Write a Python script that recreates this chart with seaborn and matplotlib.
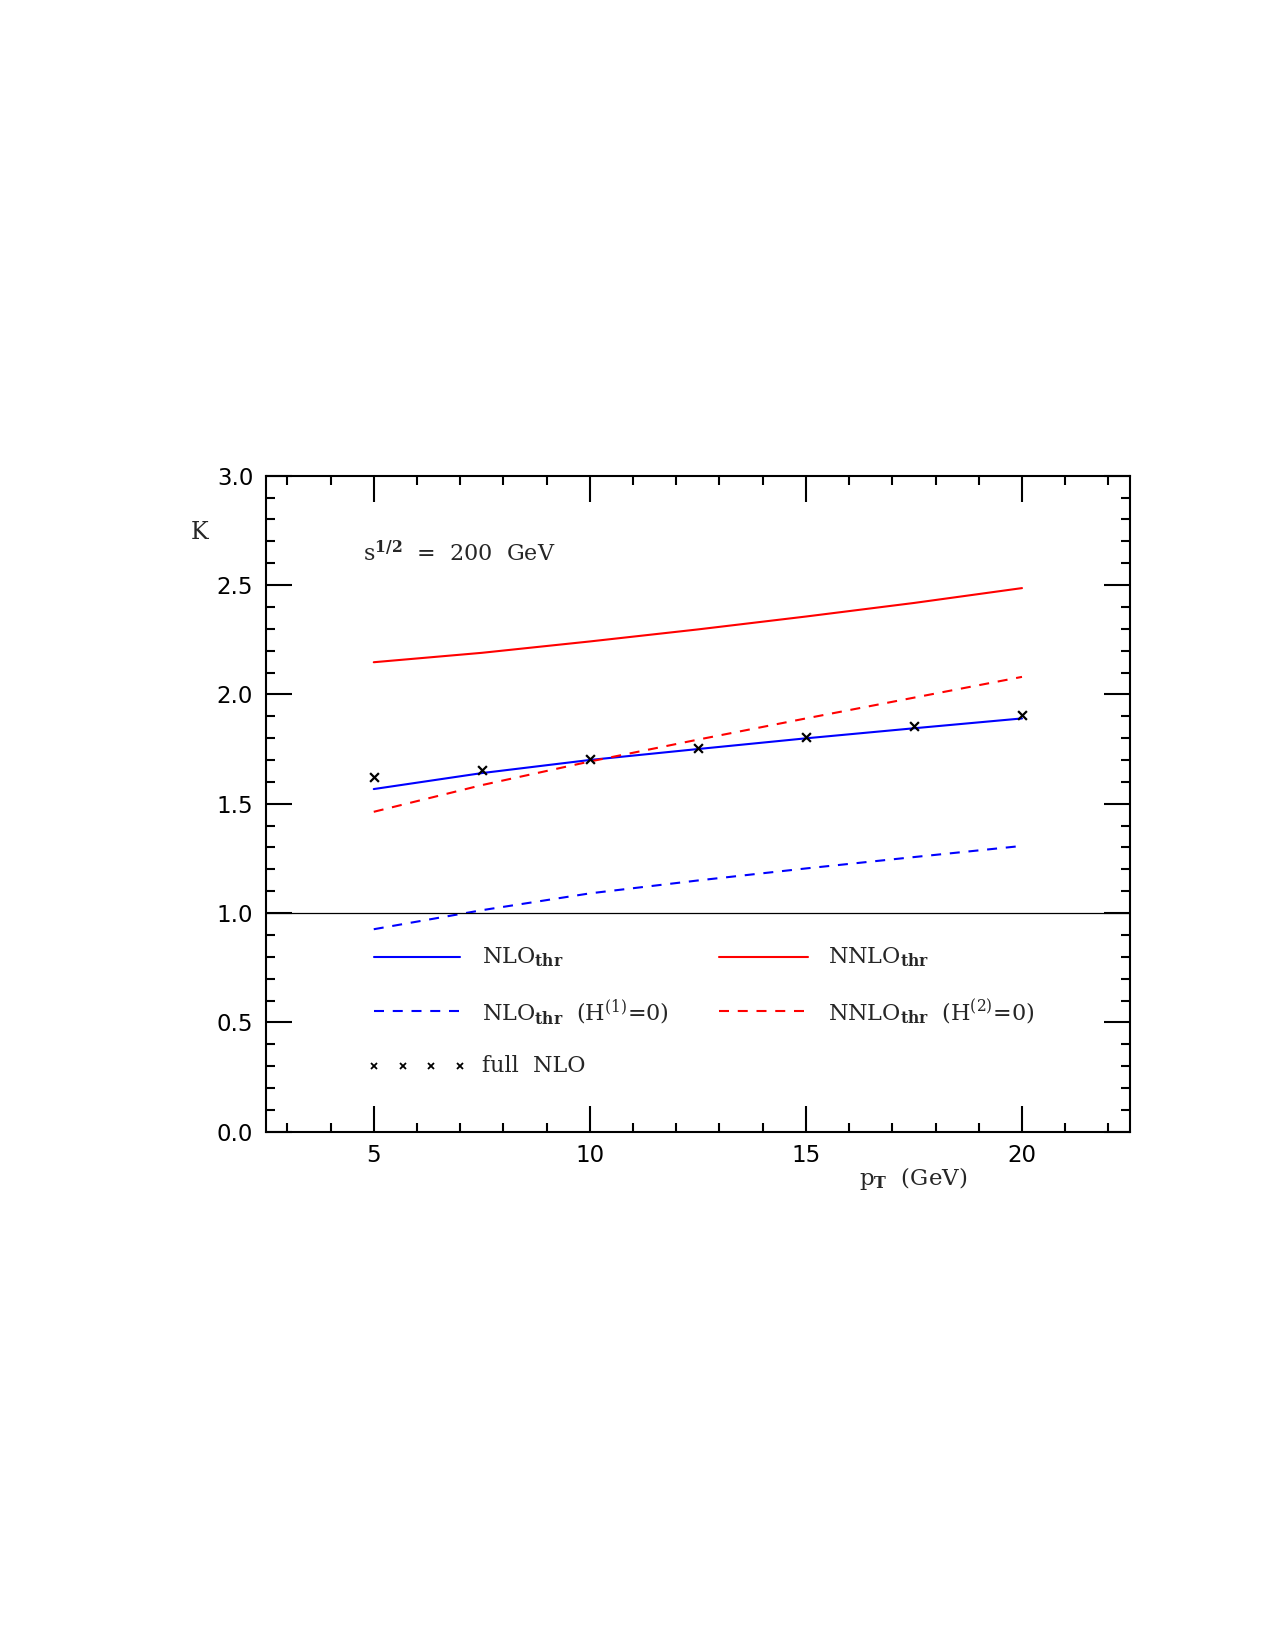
import numpy as np
import pandas as pd
import matplotlib
matplotlib.use("Agg")
import matplotlib.pyplot as plt
import seaborn as sns
from matplotlib.ticker import MultipleLocator

# ---- data ----
pt = [5.0, 7.5, 10.0, 12.5, 15.0, 17.5, 20.0]
nlo_thr = [1.567, 1.640, 1.700, 1.750, 1.799, 1.845, 1.890]
nnlo_thr = [2.147, 2.190, 2.242, 2.297, 2.356, 2.418, 2.486]
nlo_thr_h0 = [0.926, 1.013, 1.090, 1.149, 1.204, 1.256, 1.307]
nnlo_thr_h0 = [1.463, 1.585, 1.693, 1.793, 1.890, 1.985, 2.080]
full_nlo = [1.623, 1.654, 1.703, 1.756, 1.806, 1.857, 1.905]

labels = [r"NLO$_{\mathbf{thr}}$", r"NNLO$_{\mathbf{thr}}$",
          r"NLO$_{\mathbf{thr}}$  (H$^{(1)}$=0)", r"NNLO$_{\mathbf{thr}}$  (H$^{(2)}$=0)",
          "full  NLO"]

sns.set_style("ticks")
plt.rcParams["font.family"] = ["DejaVu Serif", "DejaVu Sans"]
plt.rcParams["mathtext.fontset"] = "dejavuserif"

fig = plt.figure(figsize=(12.75, 16.5), dpi=100)
ax = fig.add_axes([0.2084, 0.3141, 0.6779, 0.3976])

df = pd.DataFrame({"pt": pt, "nlo": nlo_thr, "nnlo": nnlo_thr,
                   "nlo0": nlo_thr_h0, "nnlo0": nnlo_thr_h0, "full": full_nlo})

dash = (0, (4.8, 4.2))
lw = 1.5
sns.lineplot(data=df, x="pt", y="nnlo", ax=ax, color="red", lw=lw, legend=False)
sns.lineplot(data=df, x="pt", y="nlo", ax=ax, color="blue", lw=lw, legend=False)
sns.lineplot(data=df, x="pt", y="nnlo0", ax=ax, color="red", lw=lw, legend=False)
ax.lines[-1].set_linestyle(dash)
sns.lineplot(data=df, x="pt", y="nlo0", ax=ax, color="blue", lw=lw, legend=False)
ax.lines[-1].set_linestyle(dash)
sns.scatterplot(data=df, x="pt", y="full", ax=ax, marker="x", color="black",
                s=40, linewidth=1.6, legend=False, zorder=5)

ax.axhline(1.0, color="black", lw=0.9)

# ---- legend drawn inside axes ----
row_y = [0.80, 0.55, 0.30]
ax.plot([5.0, 7.0], [row_y[0]] * 2, color="blue", lw=lw)
ax.plot([13.0, 15.05], [row_y[0]] * 2, color="red", lw=lw)
ax.plot([5.0, 7.0], [row_y[1]] * 2, color="blue", lw=lw, linestyle=dash)
ax.plot([13.0, 15.05], [row_y[1]] * 2, color="red", lw=lw, linestyle=dash)
ax.plot([5.0, 5.67, 6.33, 7.0], [row_y[2]] * 4, "x", color="black", ms=5, mew=1.3)
fs = 16
ax.text(7.5, row_y[0], labels[0], fontsize=fs, va="center", ha="left")
ax.text(15.5, row_y[0], labels[1], fontsize=fs, va="center", ha="left")
ax.text(7.5, row_y[1], labels[2], fontsize=fs, va="center", ha="left")
ax.text(15.5, row_y[1], labels[3], fontsize=fs, va="center", ha="left")
ax.text(7.5, row_y[2], labels[4], fontsize=fs, va="center", ha="left")

ax.text(4.75, 2.645, r"s$^{\mathbf{1/2}}$  =  200  GeV", fontsize=16, va="center", ha="left")

ax.set_xlim(2.5, 22.5)
ax.set_ylim(0.0, 3.0)
ax.xaxis.set_major_locator(MultipleLocator(5))
ax.xaxis.set_minor_locator(MultipleLocator(1))
ax.yaxis.set_major_locator(MultipleLocator(0.5))
ax.yaxis.set_minor_locator(MultipleLocator(0.1))
ax.yaxis.set_major_formatter(matplotlib.ticker.FormatStrFormatter("%.1f"))
ax.tick_params(which="both", direction="in", top=True, right=True, width=1.5,
               labelsize=16.5, colors="black")
ax.tick_params(which="major", length=19, pad=9)
ax.tick_params(which="minor", length=6.5)
for lab in ax.get_xticklabels() + ax.get_yticklabels():
    lab.set_family("DejaVu Sans")
for sp in ax.spines.values():
    sp.set_visible(True)
    sp.set_linewidth(1.5)
    sp.set_color("black")

ax.set_xlabel("")
ax.set_ylabel("")
fig.text(200 / 1275, 1 - 532 / 1650, "K", fontsize=17, ha="center", va="center")
fig.text(913 / 1275, 1 - 1178 / 1650, r"p$_{\mathbf{T}}$  (GeV)", fontsize=16.5,
         ha="center", va="center")

fig.savefig("out.png", dpi=100)
